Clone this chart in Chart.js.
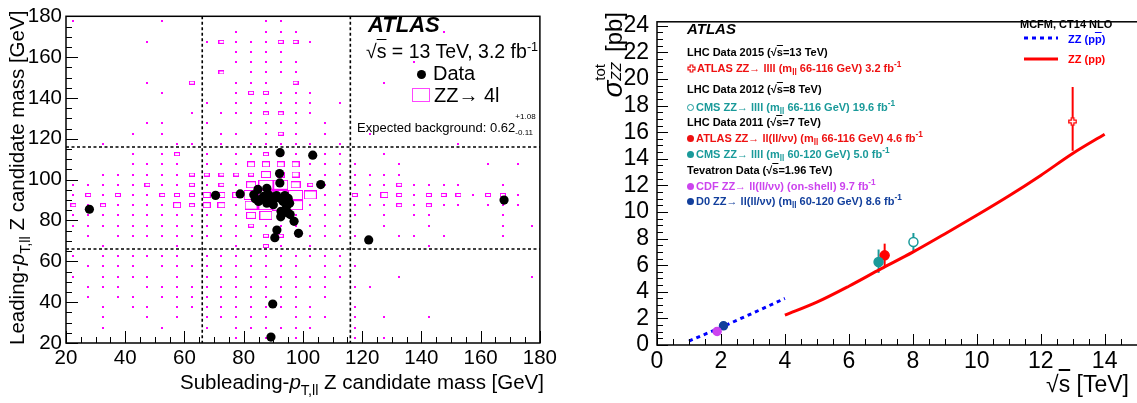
<!DOCTYPE html>
<html>
<head>
<meta charset="utf-8">
<title>ZZ candidates and ZZ cross section</title>
<script src="https://cdn.jsdelivr.net/npm/chart.js@4.4.1/dist/chart.umd.min.js"></script>
<style>
  html, body { margin: 0; padding: 0; background: #fff; }
  body { position: relative; width: 1137px; height: 403px; overflow: hidden;
         font-family: "Liberation Sans", Arial, Helvetica, sans-serif; color: #000; }
  canvas { position: absolute; top: 0; }
  #massChart { left: 0; }
  #xsecChart { left: 560px; }
  .t { position: absolute; white-space: nowrap; line-height: 1; }
  .ov { text-decoration: overline; }
  .lo { font-size: 70%; position: relative; top: 0.4em; }
  .hi { font-size: 65%; position: relative; top: -0.55em; }
  .stack { position: relative; display: inline-block; height: 1em; }
  .stack span { position: absolute; left: 0; font-size: 62%; }
  .lg { position: absolute; left: 687px; white-space: nowrap; line-height: 1;
        font: bold 11px "Liberation Sans", Arial, sans-serif; }
  .lg .lo, .lg .hi { font-size: 75%; }
  .mk { display: inline-block; width: 7px; height: 7px; border-radius: 50%; margin-right: 2px; box-sizing: border-box; }
  .arr { font-weight: normal; }
</style>
</head>
<body>
<canvas id="massChart" width="560" height="403"></canvas>
<canvas id="xsecChart" width="600" height="403"></canvas>

<!-- left panel texts -->
<div class="t" style="left:7px;top:345px;width:331px;font-size:20.5px;text-align:right;transform:rotate(-90deg);transform-origin:0 0;">Leading-<i>p</i><span class="lo">T,ll</span> Z candidate mass [GeV]</div>
<div class="t" style="right:593px;top:372px;font-size:20.5px;">Subleading-<i>p</i><span class="lo">T,ll</span> Z candidate mass [GeV]</div>
<div class="t" style="left:368px;top:12px;font:italic bold 22px 'Liberation Sans',Arial,sans-serif;">ATLAS</div>
<div class="t" style="left:366px;top:42px;font-size:19.5px;">√<span class="ov">s</span> = 13 TeV, 3.2 fb<span class="hi">-1</span></div>
<div style="position:absolute;left:416.5px;top:69.5px;width:9px;height:9px;border-radius:50%;background:#000;"></div>
<div class="t" style="left:433px;top:63px;font-size:20px;">Data</div>
<div style="position:absolute;left:412px;top:88px;width:16px;height:12px;border:1.5px solid #ff44ff;"></div>
<div class="t" style="left:434px;top:85px;font-size:20px;">ZZ→ 4l</div>
<div class="t" style="left:357px;top:119px;font-size:13px;">Expected background: 0.62<span class="stack" style="width:28px;"><span style="top:-6px;">+1.08</span><span style="top:10px;">-0.11</span></span></div>

<!-- right panel texts -->
<div class="t" style="left:598px;top:112px;width:100px;font-size:24px;text-align:right;transform:rotate(-90deg);transform-origin:0 0;"><i style="font-size:28px">σ</i><span class="stack" style="width:22px;"><span style="top:-5px;">tot</span><span style="top:11px;"><i>ZZ</i></span></span> [pb]</div>
<div class="t" style="right:8px;top:373px;font-size:23px;">√<span class="ov">s</span> [TeV]</div>
<div class="t" style="left:687px;top:20px;font:italic bold 15px 'Liberation Sans',Arial,sans-serif;">ATLAS</div>

<div class="lg" style="top:46px;">LHC Data 2015 (√<span class="ov">s</span>=13 TeV)</div>
<div class="lg" style="top:62px;color:#ee1111;"><svg width="9" height="9" style="vertical-align:-1px;margin-right:1px"><path d="M3.2 1H5.8V3.2H8V5.8H5.8V8H3.2V5.8H1V3.2H3.2Z" fill="#fff" stroke="#ee1111" stroke-width="1.2"/></svg>ATLAS ZZ<span class="arr">→</span> llll (m<span class="lo">ll</span> 66-116 GeV) 3.2 fb<span class="hi">-1</span></div>
<div class="lg" style="top:83px;">LHC Data 2012 (√<span class="ov">s</span>=8 TeV)</div>
<div class="lg" style="top:101px;color:#1a9a9a;"><span class="mk" style="border:1.3px solid #1a9a9a;"></span>CMS ZZ<span class="arr">→</span> llll (m<span class="lo">ll</span> 66-116 GeV) 19.6 fb<span class="hi">-1</span></div>
<div class="lg" style="top:116px;">LHC Data 2011 (√<span class="ov">s</span>=7 TeV)</div>
<div class="lg" style="top:132px;color:#ee1111;"><span class="mk" style="background:#ee1111;"></span>ATLAS ZZ<span class="arr">→</span> ll(ll/νν) (m<span class="lo">ll</span> 66-116 GeV) 4.6 fb<span class="hi">-1</span></div>
<div class="lg" style="top:148px;color:#1a9a9a;"><span class="mk" style="background:#1a9a9a;"></span>CMS ZZ<span class="arr">→</span> llll (m<span class="lo">ll</span> 60-120 GeV) 5.0 fb<span class="hi">-1</span></div>
<div class="lg" style="top:164px;">Tevatron Data (√<span class="ov">s</span>=1.96 TeV)</div>
<div class="lg" style="top:180px;color:#cc44ee;"><span class="mk" style="background:#cc44ee;"></span>CDF ZZ<span class="arr">→</span> ll(ll/νν) (on-shell) 9.7 fb<span class="hi">-1</span></div>
<div class="lg" style="top:195px;color:#123f9c;"><span class="mk" style="background:#123f9c;"></span>D0 ZZ<span class="arr">→</span> ll(ll/νν) (m<span class="lo">ll</span> 60-120 GeV) 8.6 fb<span class="hi">-1</span></div>

<div class="lg" style="left:1020px;top:18px;">MCFM, CT14 NLO</div>
<svg style="position:absolute;left:1022px;top:34px" width="40" height="8"><line x1="2" y1="4" x2="36" y2="4" stroke="#0000ff" stroke-width="3" stroke-dasharray="4 4"/></svg>
<div class="lg" style="left:1068px;top:33px;color:#0000ff;">ZZ (p<span class="ov">p</span>)</div>
<svg style="position:absolute;left:1022px;top:55px" width="40" height="8"><line x1="2" y1="4" x2="36" y2="4" stroke="#ff0000" stroke-width="3"/></svg>
<div class="lg" style="left:1068px;top:53px;color:#ff0000;">ZZ (pp)</div>

<script>
// ---- left panel: leading vs subleading Z candidate mass ----
const massMin = 20, massMax = 180, binWidth = 5;
const massTicks = [20, 40, 60, 80, 100, 120, 140, 160, 180];
const massWindow = [66, 116];

// expected ZZ->4l box level per 5 GeV bin (0-7), top row = 175-180 GeV, first column = 20-25 GeV
const zzRows = [
  "1.....1......11",
  "...........1.111.........1",
  ".....1...12111221",
  "...........1111",
  "...........11111.......1",
  "..........2.1111",
  ".....1..2..111.2.....1",
  "......1....122111",
  ".........1.111111.1",
  "........1.1112211",
  ".....11..1..1111.1",
  "....1.1...11.121.1..1",
  "..1....11.1.11111.1.......1",
  "....1.12.1.11221111..1",
  "....1111.11133331111..1.....1.1",
  "..111111222224331111111",
  "111112112121466421111121111..1",
  "1212112223336666511213212221221",
  "212111132331567611111121211.111",
  "11111111111145311111.1.11....1",
  "1111111111112111111..1..1....1.1",
  ".1.11111111112211111..11.1...1",
  "..1....1...1.21.1.......1",
  "1.111111.1111111111",
  ".1111.1111111111.111",
  "1.1111.1.1111111111...1........1",
  ".111.1111111111111.11",
  ".1.11.1111111111.1",
  "..1.11.1111111111..1",
  "..1..1.1.11111.111.1.1..1",
  "..1...1..1.111111..1",
  "...........1.1.1...1.1"
];

// observed candidates (subleading, leading) [GeV]
const candSub  = [27.9, 70.5, 78.8, 84.8, 87.8, 92.3, 103.3, 92.1, 92.2, 106.0, 167.9, 122.2, 89.8, 89.2, 98.5, 90.5, 91.2, 92.5, 97.0, 95.7,
                  95.0, 92.6, 83.4, 83.9, 85.0, 86.7, 87.8, 89.4, 90.0, 91.1, 92.2, 93.3, 93.9, 95.0, 95.5, 88.5, 90.5, 86.0, 94.5];
const candLead = [85.5, 92.3, 93.0, 95.2, 95.8, 113.2, 112.0, 103.0, 98.4, 97.6, 90.0, 70.5, 39.1, 22.9, 73.7, 71.6, 75.3, 81.8, 79.6, 82.9,
                  83.7, 84.5, 92.6, 90.6, 89.3, 91.8, 88.5, 90.2, 87.7, 92.2, 90.9, 89.3, 92.2, 90.9, 88.5, 92.5, 91.0, 90.5, 87.0];

// ---- right panel: ZZ cross section vs sqrt(s) ----
const sqrtSTicks = [0, 2, 4, 6, 8, 10, 12, 14];
const sigmaTicks = [0, 2, 4, 6, 8, 10, 12, 14, 16, 18, 20, 22, 24];
const ppbarSqrtS = [1, 2, 3, 4];
const ppbarSigma = [0.3, 1.32, 2.4, 3.5];
const ppSqrtS = [4, 5, 6, 7, 8, 9, 10, 11, 12, 13, 14];
const ppSigma = [2.24, 3.22, 4.42, 5.72, 6.98, 8.35, 9.75, 11.2, 12.75, 14.4, 15.85];
const measNames = ['CDF 1.96 TeV', 'D0 1.96 TeV', 'CMS 7 TeV', 'ATLAS 7 TeV', 'CMS 8 TeV', 'ATLAS 13 TeV'];
const measSqrtS = [1.88, 2.08, 6.93, 7.12, 8.02, 13.0];
const measSigma = [1.02, 1.44, 6.24, 6.74, 7.74, 16.8];
const measLow   = [0.78, 1.15, 5.42, 5.88, 7.06, 14.6];
const measHigh  = [1.26, 1.72, 7.18, 7.62, 8.42, 19.4];

// styles
const measColor = ['#cc44ee', '#123f9c', '#1a9a9a', '#ff0000', '#1a9a9a', '#ff0000'];
const measFill  = ['#cc44ee', '#123f9c', '#1a9a9a', '#ff0000', '#ffffff', '#ffffff'];
const boxFrac = [0, 0.14, 0.4, 0.55, 0.7, 0.85, 1, 1.12];

Chart.defaults.font.family = '"Liberation Sans", Arial, sans-serif';
Chart.defaults.color = '#000';

const zzCells = [];
zzRows.forEach((row, k) => {
  const yc = massMax - binWidth * (k + 0.5);
  row.padEnd(32, '.').split('').forEach((ch, i) => {
    if (ch !== '.') zzCells.push({ x: massMin + binWidth * (i + 0.5), y: yc, v: +ch });
  });
});
const candidates = candSub.map((x, i) => ({ x: x, y: candLead[i] }));

const zzImages = {};
function zzBox(c) {
  const lvl = c.raw && c.raw.v ? c.raw.v : 1;
  let bw = 15, bh = 10.3;
  const sx = c.chart.scales.x, sy = c.chart.scales.y;
  if (sx && sy) {
    const w0 = Math.abs(sx.getPixelForValue(massMin + binWidth) - sx.getPixelForValue(massMin));
    const h0 = Math.abs(sy.getPixelForValue(massMin + binWidth) - sy.getPixelForValue(massMin));
    if (w0 > 5 && w0 < 40 && h0 > 4 && h0 < 40) { bw = w0; bh = h0; }
  }
  const w = Math.max(2, Math.round(bw * boxFrac[lvl]));
  const h = Math.max(2, Math.round(bh * boxFrac[lvl]));
  const key = w + 'x' + h + (lvl === 1 ? 'f' : 'o');
  if (!zzImages[key]) {
    const cv = document.createElement('canvas');
    cv.width = w; cv.height = h;
    const g = cv.getContext('2d');
    if (lvl === 1) {
      g.fillStyle = '#ff00ff';
      g.fillRect(0, 0, w, h);
    } else {
      g.strokeStyle = '#ff00ff';
      g.lineWidth = 1;
      g.strokeRect(0.5, 0.5, w - 1, h - 1);
    }
    zzImages[key] = cv;
  }
  return zzImages[key];
}

function openCross(color) {
  const cv = document.createElement('canvas');
  cv.width = 9; cv.height = 9;
  const g = cv.getContext('2d');
  const m = 4.5, a = 1.3, b = 3.7;
  g.beginPath();
  g.moveTo(m - a, m - b); g.lineTo(m + a, m - b); g.lineTo(m + a, m - a); g.lineTo(m + b, m - a);
  g.lineTo(m + b, m + a); g.lineTo(m + a, m + a); g.lineTo(m + a, m + b); g.lineTo(m - a, m + b);
  g.lineTo(m - a, m + a); g.lineTo(m - b, m + a); g.lineTo(m - b, m - a); g.lineTo(m - a, m - a);
  g.closePath();
  g.fillStyle = '#fff'; g.fill();
  g.strokeStyle = color; g.lineWidth = 1.3; g.stroke();
  return cv;
}

// ROOT-like frame with inward major / minor ticks
const rootFrame = {
  id: 'rootFrame',
  afterDraw(chart, args, o) {
    const { ctx, chartArea: a, scales: { x, y } } = chart;
    ctx.save();
    ctx.strokeStyle = '#000';
    ctx.lineWidth = 1;
    ctx.beginPath();
    const n1 = Math.floor((x.max + 1e-9) / o.xMinor);
    for (let k = Math.ceil((x.min - 1e-9) / o.xMinor); k <= n1; k++) {
      const v = +(k * o.xMinor).toFixed(6);
      const major = Math.abs(v / o.xMajor - Math.round(v / o.xMajor)) < 1e-6;
      const px = Math.round(x.getPixelForValue(v)) + 0.5;
      ctx.moveTo(px, a.bottom);
      ctx.lineTo(px, a.bottom - (major ? o.majorLen : o.minorLen));
    }
    const n2 = Math.floor((y.max + 1e-9) / o.yMinor);
    for (let k = Math.ceil((y.min - 1e-9) / o.yMinor); k <= n2; k++) {
      const v = +(k * o.yMinor).toFixed(6);
      const major = Math.abs(v / o.yMajor - Math.round(v / o.yMajor)) < 1e-6;
      const py = Math.round(y.getPixelForValue(v)) + 0.5;
      ctx.moveTo(a.left, py);
      ctx.lineTo(a.left + (major ? o.majorLen : o.minorLen), py);
    }
    ctx.stroke();
    ctx.lineWidth = 1.5;
    ctx.strokeRect(a.left, a.top, a.right - a.left, a.bottom - a.top);
    ctx.restore();
  }
};

const cutLines = {
  id: 'cutLines',
  beforeDatasetsDraw(chart) {
    const { ctx, chartArea: a, scales: { x, y } } = chart;
    ctx.save();
    ctx.strokeStyle = '#000';
    ctx.lineWidth = 1.6;
    ctx.setLineDash([3, 2.5]);
    massWindow.forEach(m => {
      const px = x.getPixelForValue(m), py = y.getPixelForValue(m);
      ctx.beginPath(); ctx.moveTo(px, a.top); ctx.lineTo(px, a.bottom); ctx.stroke();
      ctx.beginPath(); ctx.moveTo(a.left, py); ctx.lineTo(a.right, py); ctx.stroke();
    });
    ctx.restore();
  }
};

const errorBars = {
  id: 'errorBars',
  beforeDatasetsDraw(chart) {
    const { ctx, scales: { x, y } } = chart;
    ctx.save();
    ctx.lineWidth = 2;
    measSqrtS.forEach((s, i) => {
      const px = x.getPixelForValue(s);
      ctx.strokeStyle = measColor[i];
      ctx.beginPath();
      ctx.moveTo(px, y.getPixelForValue(measLow[i]));
      ctx.lineTo(px, y.getPixelForValue(measHigh[i]));
      ctx.stroke();
    });
    ctx.restore();
  }
};

function axis(tickList, min, max, fontSize, pad, fixed, isX) {
  return {
    type: 'linear', min: min, max: max,
    grid: { display: false, drawTicks: false },
    border: { display: false },
    afterBuildTicks: s => { s.ticks = tickList.map(v => ({ value: v })); },
    afterFit: s => { if (isX) s.height = fixed; else s.width = fixed; },
    ticks: { font: { size: fontSize }, color: '#000', padding: pad, maxRotation: 0, autoSkip: false,
             callback: v => String(v) }
  };
}

new Chart(document.getElementById('massChart'), {
  type: 'scatter',
  data: {
    datasets: [
      { label: 'ZZ→ 4l', data: zzCells, pointStyle: zzBox, pointRadius: 3, pointHoverRadius: 3, order: 2 },
      { label: 'Data', data: candidates, pointStyle: 'circle', pointRadius: 4.6, backgroundColor: '#000',
        borderColor: '#000', borderWidth: 0, order: 1 }
    ]
  },
  options: {
    responsive: false, animation: false, devicePixelRatio: 1, events: [],
    layout: { padding: { top: 14, right: 18, left: 0, bottom: 0 } },
    plugins: {
      legend: { display: false }, tooltip: { enabled: false },
      rootFrame: { xMinor: 5, xMajor: 20, yMinor: 5, yMajor: 20, majorLen: 12, minorLen: 6 }
    },
    scales: {
      x: axis(massTicks, massMin, massMax, 20.5, 3, 60, true),
      y: axis(massTicks, massMin, massMax, 20.5, 4, 66, false)
    }
  },
  plugins: [cutLines, rootFrame]
});

new Chart(document.getElementById('xsecChart'), {
  type: 'scatter',
  data: {
    datasets: [
      { label: 'ZZ (pp̄)', data: ppbarSqrtS.map((s, i) => ({ x: s, y: ppbarSigma[i] })), showLine: true,
        borderColor: '#0000ff', borderWidth: 3, borderDash: [4, 4], pointRadius: 0, order: 3 },
      { label: 'ZZ (pp)', data: ppSqrtS.map((s, i) => ({ x: s, y: ppSigma[i] })), showLine: true,
        borderColor: '#ff0000', borderWidth: 3, pointRadius: 0, cubicInterpolationMode: 'monotone', order: 3 }
    ].concat(measNames.map((n, i) => ({
      label: n,
      data: [{ x: measSqrtS[i], y: measSigma[i] }],
      pointStyle: i === 5 ? openCross(measColor[i]) : 'circle',
      pointRadius: i < 2 ? 4 : 4.5,
      backgroundColor: measFill[i], borderColor: measColor[i], borderWidth: 1.5, order: 1
    })))
  },
  options: {
    responsive: false, animation: false, devicePixelRatio: 1, events: [],
    layout: { padding: { top: 3, right: 17, left: 0, bottom: 0 } },
    plugins: {
      legend: { display: false }, tooltip: { enabled: false },
      rootFrame: { xMinor: 0.5, xMajor: 2, yMinor: 0.5, yMajor: 2, majorLen: 11, minorLen: 6 }
    },
    scales: {
      x: axis(sqrtSTicks, 0, 15.2, 23, 3, 58, true),
      y: axis(sigmaTicks, 0, 24.3, 23, 8, 97, false)
    }
  },
  plugins: [errorBars, rootFrame]
});
</script>
</body>
</html>
